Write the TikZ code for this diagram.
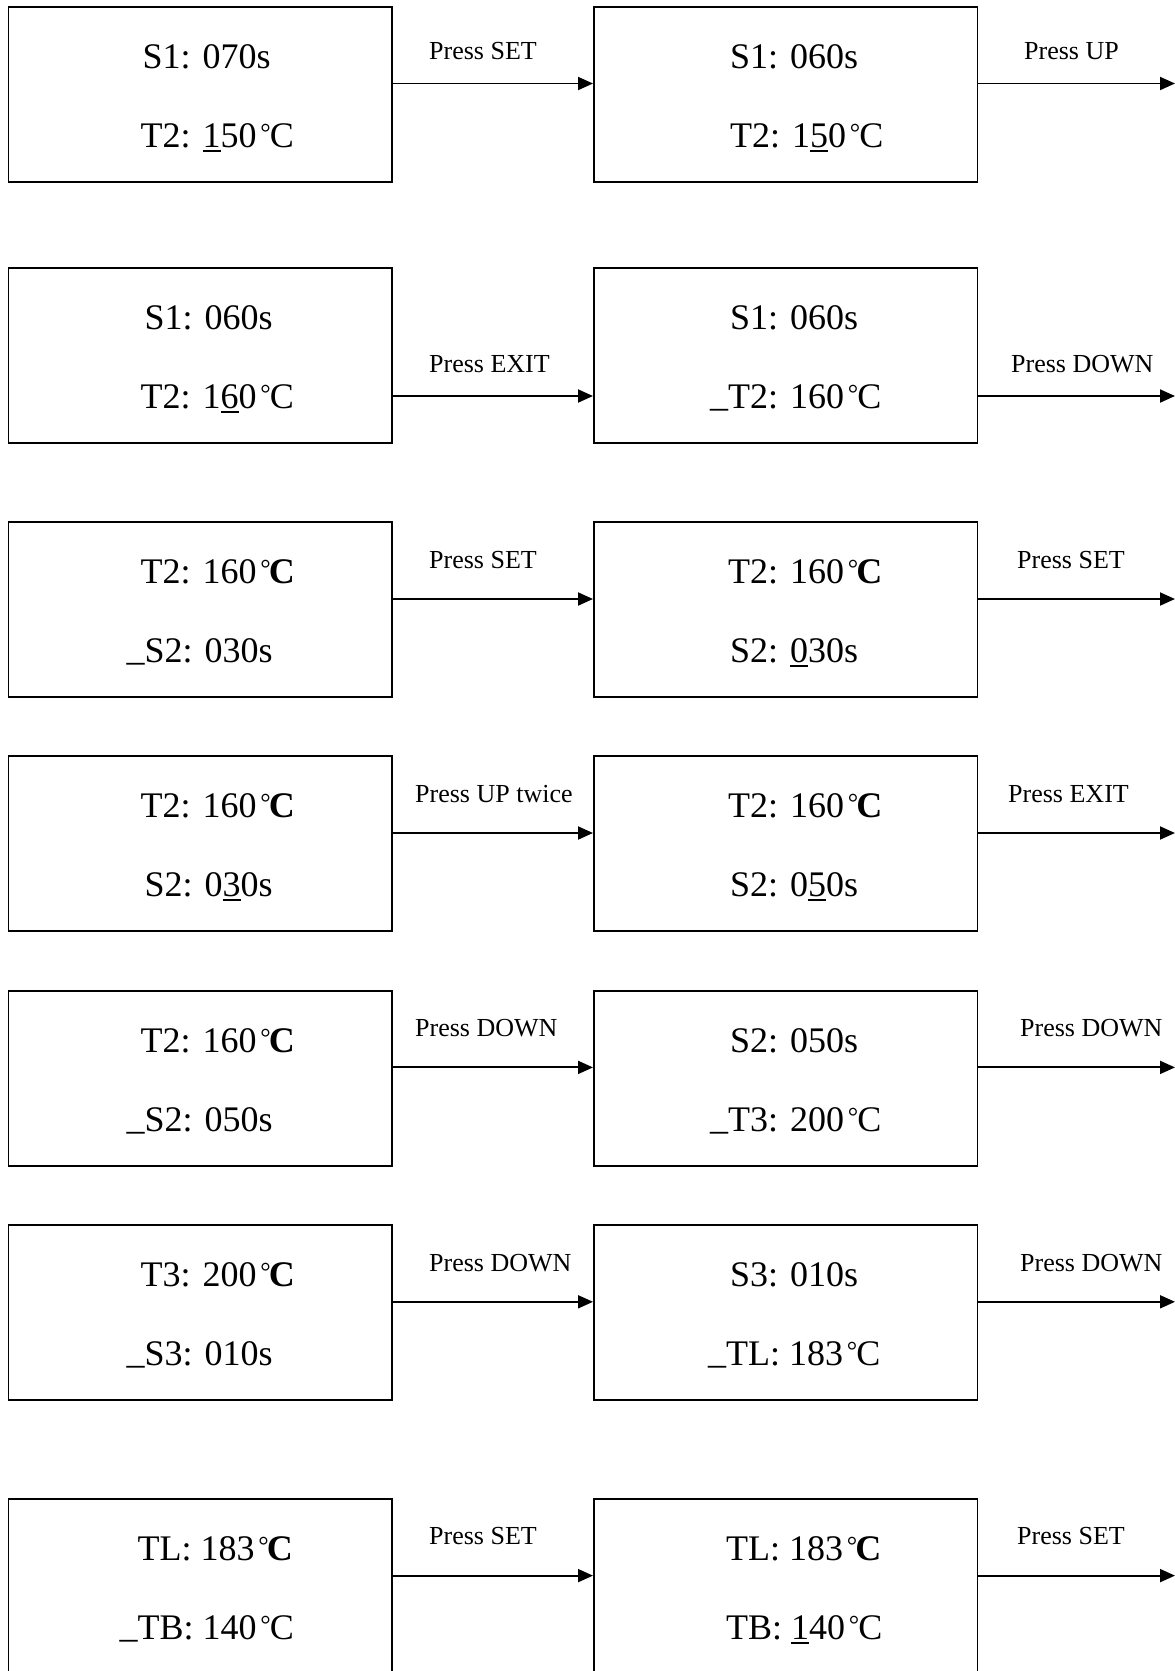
\documentclass[tikz,border=0pt]{standalone}
\usepackage{fontspec}
\setmainfont{Liberation Serif}
\usetikzlibrary{arrows.meta,calc}
\newcommand\dgthin{\kern.1em{\fontsize{26}{30}\selectfont\raisebox{6pt}{\textdegree}}\kern-.02em C}
\newcommand\dgheavy{\kern.1em{\fontsize{26}{30}\selectfont\raisebox{6pt}{\textdegree}}\kern-.05em\textbf{C}}
\newsavebox\ulbox
\newcommand\ulx[1]{\sbox\ulbox{#1}\rlap{\rule[-4.5pt]{\wd\ulbox}{2pt}}\usebox{\ulbox}}
\newcommand\pre{\llap{\raisebox{2pt}{\_}}}
\tikzset{
  box/.style={draw, line width=1.9pt, rectangle, inner sep=0pt, anchor=north west,
    minimum width=383.5pt, minimum height=175pt},
  txt/.style={inner sep=0pt, anchor=base west, font=\fontsize{36}{40}\selectfont},
  lbl/.style={inner sep=0pt, anchor=base west, font=\fontsize{26}{30}\selectfont},
  arr/.style={line width=1.9pt, -{Triangle[length=15pt,width=13pt]}}
}
\begin{document}
\begin{tikzpicture}[x=1pt,y=-1pt]
\useasboundingbox (0,0) rectangle (1175,1671);
\clip (0,0) rectangle (1175,1671);
% ---------- row 1
\node[box] (b1L) at (7.5,6.4) {};
\node[box] (b1R) at (593,6.4) {};
\node[txt] (t1La) at ($(b1L.north west)+(135,62.5)$) {S1: 070s};
\node[txt] (t1Lb) at ($(b1L.north west)+(133,141.5)$) {T2: \ulx{1}50\dgthin};
\node[txt] (t1Ra) at ($(b1R.north west)+(137,62.5)$) {S1: 060s};
\node[txt] (t1Rb) at ($(b1R.north west)+(137,141.5)$) {T2: 1\ulx{5}0\dgthin};
\coordinate (a1) at (0,83.5);
\coordinate (e1) at (1175,83.5);
\draw[arr] (b1L.east |- a1) -- (b1R.west |- a1);
\draw[arr] (b1R.east |- a1) -- (e1);
\node[lbl] (l1L) at (429,59) {Press SET};
\node[lbl] (l1R) at (1024,59) {Press UP};
% ---------- row 2
\node[box] (b2L) at (7.5,267.4) {};
\node[box] (b2R) at (593,267.4) {};
\node[txt] (t2La) at ($(b2L.north west)+(137,62.5)$) {S1: 060s};
\node[txt] (t2Lb) at ($(b2L.north west)+(133,141.5)$) {T2: 1\ulx{6}0\dgthin};
\node[txt] (t2Ra) at ($(b2R.north west)+(137,62.5)$) {S1: 060s};
\node[txt] (t2Rb) at ($(b2R.north west)+(135,141.5)$) {\pre T2: 160\dgthin};
\coordinate (a2) at (0,396);
\coordinate (e2) at (1175,396);
\draw[arr] (b2L.east |- a2) -- (b2R.west |- a2);
\draw[arr] (b2R.east |- a2) -- (e2);
\node[lbl] (l2L) at (429,372) {Press EXIT};
\node[lbl] (l2R) at (1011,372) {Press DOWN};
% ---------- row 3
\node[box] (b3L) at (7.5,521) {};
\node[box] (b3R) at (593,521) {};
\node[txt] (t3La) at ($(b3L.north west)+(133,62.5)$) {T2: 160\dgheavy};
\node[txt] (t3Lb) at ($(b3L.north west)+(137,141.5)$) {\pre S2: 030s};
\node[txt] (t3Ra) at ($(b3R.north west)+(135,62.5)$) {T2: 160\dgheavy};
\node[txt] (t3Rb) at ($(b3R.north west)+(137,141.5)$) {S2: \ulx{0}30s};
\coordinate (a3) at (0,599);
\coordinate (e3) at (1175,599);
\draw[arr] (b3L.east |- a3) -- (b3R.west |- a3);
\draw[arr] (b3R.east |- a3) -- (e3);
\node[lbl] (l3L) at (429,568) {Press SET};
\node[lbl] (l3R) at (1017,568) {Press SET};
% ---------- row 4
\node[box] (b4L) at (7.5,755) {};
\node[box] (b4R) at (593,755) {};
\node[txt] (t4La) at ($(b4L.north west)+(133,62.5)$) {T2: 160\dgheavy};
\node[txt] (t4Lb) at ($(b4L.north west)+(137,141.5)$) {S2: 0\ulx{3}0s};
\node[txt] (t4Ra) at ($(b4R.north west)+(135,62.5)$) {T2: 160\dgheavy};
\node[txt] (t4Rb) at ($(b4R.north west)+(137,141.5)$) {S2: 0\ulx{5}0s};
\coordinate (a4) at (0,833);
\coordinate (e4) at (1175,833);
\draw[arr] (b4L.east |- a4) -- (b4R.west |- a4);
\draw[arr] (b4R.east |- a4) -- (e4);
\node[lbl] (l4L) at (415,802) {Press UP twice};
\node[lbl] (l4R) at (1008,802) {Press EXIT};
% ---------- row 5
\node[box] (b5L) at (7.5,989.7) {};
\node[box] (b5R) at (593,989.7) {};
\node[txt] (t5La) at ($(b5L.north west)+(133,62.5)$) {T2: 160\dgheavy};
\node[txt] (t5Lb) at ($(b5L.north west)+(137,141.5)$) {\pre S2: 050s};
\node[txt] (t5Ra) at ($(b5R.north west)+(137,62.5)$) {S2: 050s};
\node[txt] (t5Rb) at ($(b5R.north west)+(135,141.5)$) {\pre T3: 200\dgthin};
\coordinate (a5) at (0,1067.4);
\coordinate (e5) at (1175,1067.4);
\draw[arr] (b5L.east |- a5) -- (b5R.west |- a5);
\draw[arr] (b5R.east |- a5) -- (e5);
\node[lbl] (l5L) at (415,1036.5) {Press DOWN};
\node[lbl] (l5R) at (1020,1036.5) {Press DOWN};
% ---------- row 6
\node[box] (b6L) at (7.5,1224) {};
\node[box] (b6R) at (593,1224) {};
\node[txt] (t6La) at ($(b6L.north west)+(133,62.5)$) {T3: 200\dgheavy};
\node[txt] (t6Lb) at ($(b6L.north west)+(137,141.5)$) {\pre S3: 010s};
\node[txt] (t6Ra) at ($(b6R.north west)+(137,62.5)$) {S3: 010s};
\node[txt] (t6Rb) at ($(b6R.north west)+(133,141.5)$) {\pre TL: 183\dgthin};
\coordinate (a6) at (0,1301.8);
\coordinate (e6) at (1175,1301.8);
\draw[arr] (b6L.east |- a6) -- (b6R.west |- a6);
\draw[arr] (b6R.east |- a6) -- (e6);
\node[lbl] (l6L) at (429,1271) {Press DOWN};
\node[lbl] (l6R) at (1020,1271) {Press DOWN};
% ---------- row 7
\node[box] (b7L) at (7.5,1497.8) {};
\node[box] (b7R) at (593,1497.8) {};
\node[txt] (t7La) at ($(b7L.north west)+(130,62.5)$) {TL: 183\dgheavy};
\node[txt] (t7Lb) at ($(b7L.north west)+(130,141.5)$) {\pre TB: 140\dgthin};
\node[txt] (t7Ra) at ($(b7R.north west)+(133,62.5)$) {TL: 183\dgheavy};
\node[txt] (t7Rb) at ($(b7R.north west)+(133,141.5)$) {TB: \ulx{1}40\dgthin};
\coordinate (a7) at (0,1575.6);
\coordinate (e7) at (1175,1575.6);
\draw[arr] (b7L.east |- a7) -- (b7R.west |- a7);
\draw[arr] (b7R.east |- a7) -- (e7);
\node[lbl] (l7L) at (429,1544.5) {Press SET};
\node[lbl] (l7R) at (1017,1544.5) {Press SET};
\end{tikzpicture}
\end{document}
